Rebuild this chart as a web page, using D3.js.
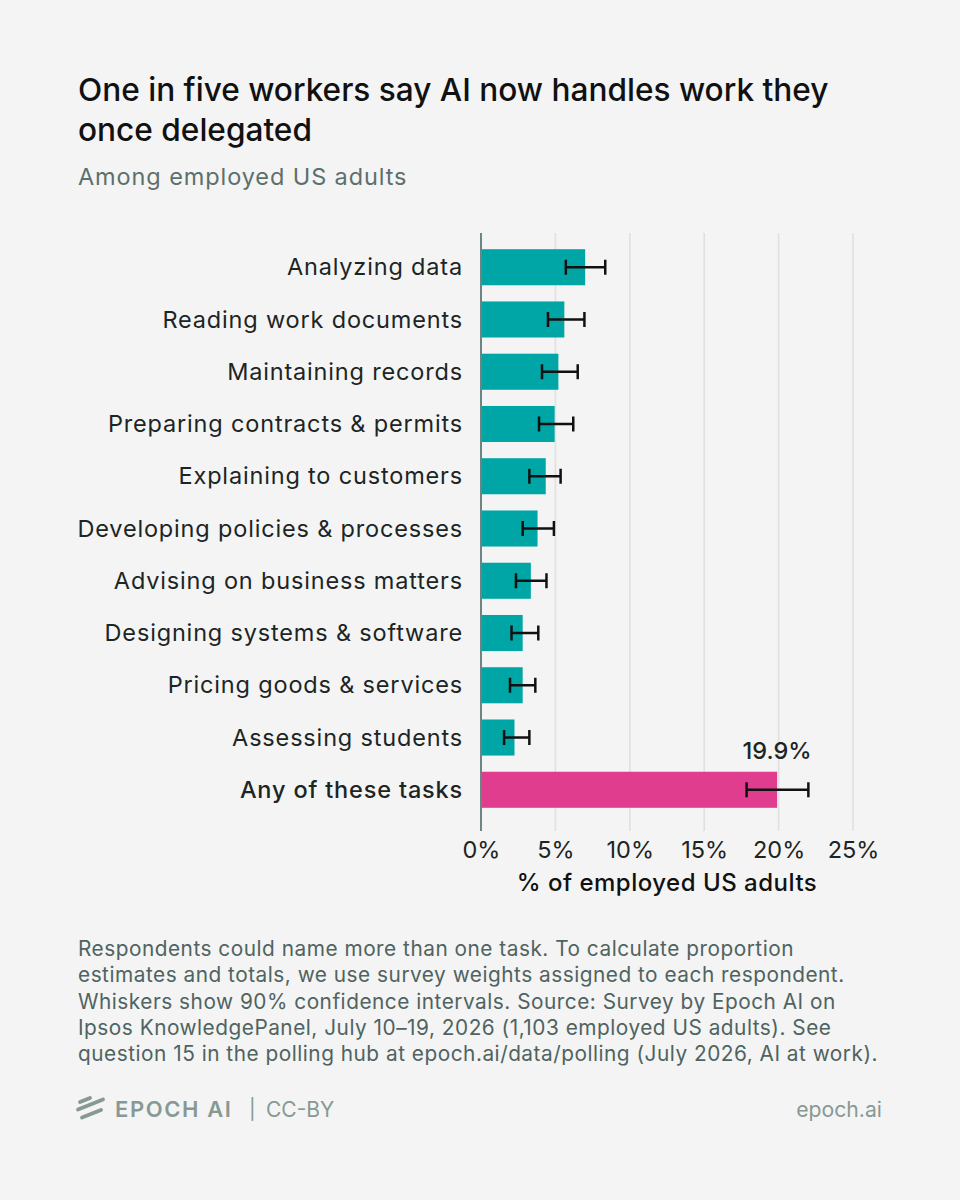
<!DOCTYPE html>
<html>
<head>
<meta charset="utf-8">
<script src="https://cdn.jsdelivr.net/npm/d3@7"></script>
<style>
  body { margin: 0; background: #f4f4f4; }
  svg { display: block; font-family: Inter, "Noto Sans", sans-serif; }
</style>
</head>
<body>
<div id="wrapper"></div>
<script>
const categories = [
  "Analyzing data",
  "Reading work documents",
  "Maintaining records",
  "Preparing contracts & permits",
  "Explaining to customers",
  "Developing policies & processes",
  "Advising on business matters",
  "Designing systems & software",
  "Pricing goods & services",
  "Assessing students",
  "Any of these tasks"
]
const values = [7.0, 5.6, 5.2, 4.95, 4.35, 3.8, 3.35, 2.8, 2.8, 2.25, 19.9]
const lower = [5.7, 4.5, 4.1, 3.9, 3.25, 2.8, 2.35, 2.05, 1.95, 1.55, 17.85]
const upper = [8.35, 6.95, 6.5, 6.2, 5.35, 4.9, 4.4, 3.85, 3.65, 3.25, 22.0]
const xTicks = [0, 5, 10, 15, 20, 25]

const footnote = [
  "Respondents could name more than one task. To calculate proportion",
  "estimates and totals, we use survey weights assigned to each respondent.",
  "Whiskers show 90% confidence intervals. Source: Survey by Epoch AI on",
  "Ipsos KnowledgePanel, July 10\u201319, 2026 (1,103 employed US adults). See",
  "question 15 in the polling hub at epoch.ai/data/polling (July 2026, AI at work)."
]

const data = categories.map((c, i) => ({
  cat: c, value: values[i], lo: lower[i], hi: upper[i], total: i == categories.length - 1
}))

const width = 960, height = 1200

const svg = d3.select("#wrapper")
  .append("svg")
  .attr("width", width)
  .attr("height", height)

svg.append("rect")
  .attr("width", width).attr("height", height)
  .attr("fill", "#f4f4f4")

// title block
svg.append("text")
  .attr("x", 78).attr("y", 101)
  .attr("font-size", 31.6).attr("font-weight", 500)
  .attr("fill", "#111")
  .text("One in five workers say AI now handles work they")
svg.append("text")
  .attr("x", 78).attr("y", 141)
  .attr("font-size", 31.6).attr("font-weight", 500)
  .attr("fill", "#111")
  .text("once delegated")
svg.append("text")
  .attr("x", 78).attr("y", 185)
  .attr("font-size", 23.5)
  .attr("letter-spacing", 0.9)
  .attr("fill", "#5d6f6d")
  .text("Among employed US adults")

// scales
const x = d3.scaleLinear()
  .domain([0, 25])
  .range([481, 853])

const y = d3.scaleBand()
  .domain(categories)
  .range([233, 824])
  .paddingInner(0.31)
  .paddingOuter(0.31)

const plotTop = 233, plotBottom = 831

// gridlines
svg.append("g")
  .selectAll("line")
  .data(xTicks.slice(1))
  .join("line")
  .attr("x1", d => x(d)).attr("x2", d => x(d))
  .attr("y1", plotTop).attr("y2", plotBottom)
  .attr("stroke", "#e0e0e0")
  .attr("stroke-width", 1.6)

// bars
svg.append("g")
  .selectAll("rect")
  .data(data)
  .join("rect")
  .attr("x", x(0))
  .attr("y", d => y(d.cat))
  .attr("width", d => x(d.value) - x(0))
  .attr("height", y.bandwidth())
  .attr("fill", d => d.total ? "#e03d8f" : "#00a5a5")

// whiskers
const whisk = svg.append("g")
  .selectAll("g")
  .data(data)
  .join("g")
  .attr("stroke", "#111")
  .attr("stroke-width", 2.5)
whisk.append("line")
  .attr("x1", d => x(d.lo)).attr("x2", d => x(d.hi))
  .attr("y1", d => y(d.cat) + y.bandwidth() / 2)
  .attr("y2", d => y(d.cat) + y.bandwidth() / 2)
whisk.append("line")
  .attr("x1", d => x(d.lo)).attr("x2", d => x(d.lo))
  .attr("y1", d => y(d.cat) + y.bandwidth() / 2 - 7.5)
  .attr("y2", d => y(d.cat) + y.bandwidth() / 2 + 7.5)
whisk.append("line")
  .attr("x1", d => x(d.hi)).attr("x2", d => x(d.hi))
  .attr("y1", d => y(d.cat) + y.bandwidth() / 2 - 7.5)
  .attr("y2", d => y(d.cat) + y.bandwidth() / 2 + 7.5)

// zero line
svg.append("line")
  .attr("x1", x(0)).attr("x2", x(0))
  .attr("y1", plotTop).attr("y2", plotBottom)
  .attr("stroke", "#6e8482")
  .attr("stroke-width", 2)

// category labels
svg.append("g")
  .selectAll("text")
  .data(data)
  .join("text")
  .attr("x", 463)
  .attr("y", d => y(d.cat) + y.bandwidth() / 2)
  .attr("dy", "0.35em")
  .attr("text-anchor", "end")
  .attr("font-size", 23.5)
  .attr("letter-spacing", 0.83)
  .attr("font-weight", d => d.total ? 500 : 400)
  .attr("fill", "#1c2524")
  .text(d => d.cat)

// value label for the total bar
const total = data[data.length - 1]
svg.append("text")
  .attr("x", x(total.value))
  .attr("y", y(total.cat) - 13)
  .attr("text-anchor", "middle")
  .attr("font-size", 23.5)
  .attr("font-weight", 500)
  .attr("fill", "#1c2524")
  .text(total.value.toFixed(1) + "%")

// x axis
const xAxisGen = d3.axisBottom(x)
  .tickValues(xTicks)
  .tickFormat(d => d + "%")
  .tickSize(0)
  .tickPadding(0)
const xAxis = svg.append("g")
  .attr("transform", `translate(0, ${plotBottom})`)
  .call(xAxisGen)
xAxis.select(".domain").remove()
xAxis.selectAll("text")
  .attr("y", 27)
  .attr("dy", 0)
  .attr("font-family", "Inter, 'Noto Sans', sans-serif")
  .attr("font-size", 23.5)
  .attr("fill", "#1c2524")

svg.append("text")
  .attr("x", (x(0) + x(25)) / 2)
  .attr("y", 891)
  .attr("text-anchor", "middle")
  .attr("font-size", 24)
  .attr("letter-spacing", 0.5)
  .attr("font-weight", 500)
  .attr("fill", "#111")
  .text("% of employed US adults")

// footnote
svg.append("g")
  .selectAll("text")
  .data(footnote)
  .join("text")
  .attr("x", 78)
  .attr("y", (d, i) => 956 + i * 26.3)
  .attr("font-size", 20.8)
  .attr("letter-spacing", 0.51)
  .attr("fill", "#4f6361")
  .text(d => d)

// footer
const logo = svg.append("g")
  .attr("stroke", "#879994")
  .attr("stroke-width", 3.8)
  .attr("stroke-linecap", "round")
;[[80, 1102, 90, 1098], [78, 1109.5, 103, 1099.5], [82, 1117.5, 101, 1110]].forEach(s => {
  logo.append("line")
    .attr("x1", s[0]).attr("y1", s[1]).attr("x2", s[2]).attr("y2", s[3])
})
svg.append("text")
  .attr("x", 115).attr("y", 1117)
  .attr("font-size", 22).attr("font-weight", 600)
  .attr("letter-spacing", 1.6)
  .attr("fill", "#879994")
  .text("EPOCH AI")
svg.append("text")
  .attr("x", 249).attr("y", 1116)
  .attr("font-size", 20)
  .attr("fill", "#879994")
  .text("|")
svg.append("text")
  .attr("x", 266).attr("y", 1117)
  .attr("font-size", 21)
  .attr("fill", "#879994")
  .text("CC-BY")
svg.append("text")
  .attr("x", 882).attr("y", 1117)
  .attr("text-anchor", "end")
  .attr("font-size", 21.2)
  .attr("fill", "#879994")
  .text("epoch.ai")
</script>
</body>
</html>
